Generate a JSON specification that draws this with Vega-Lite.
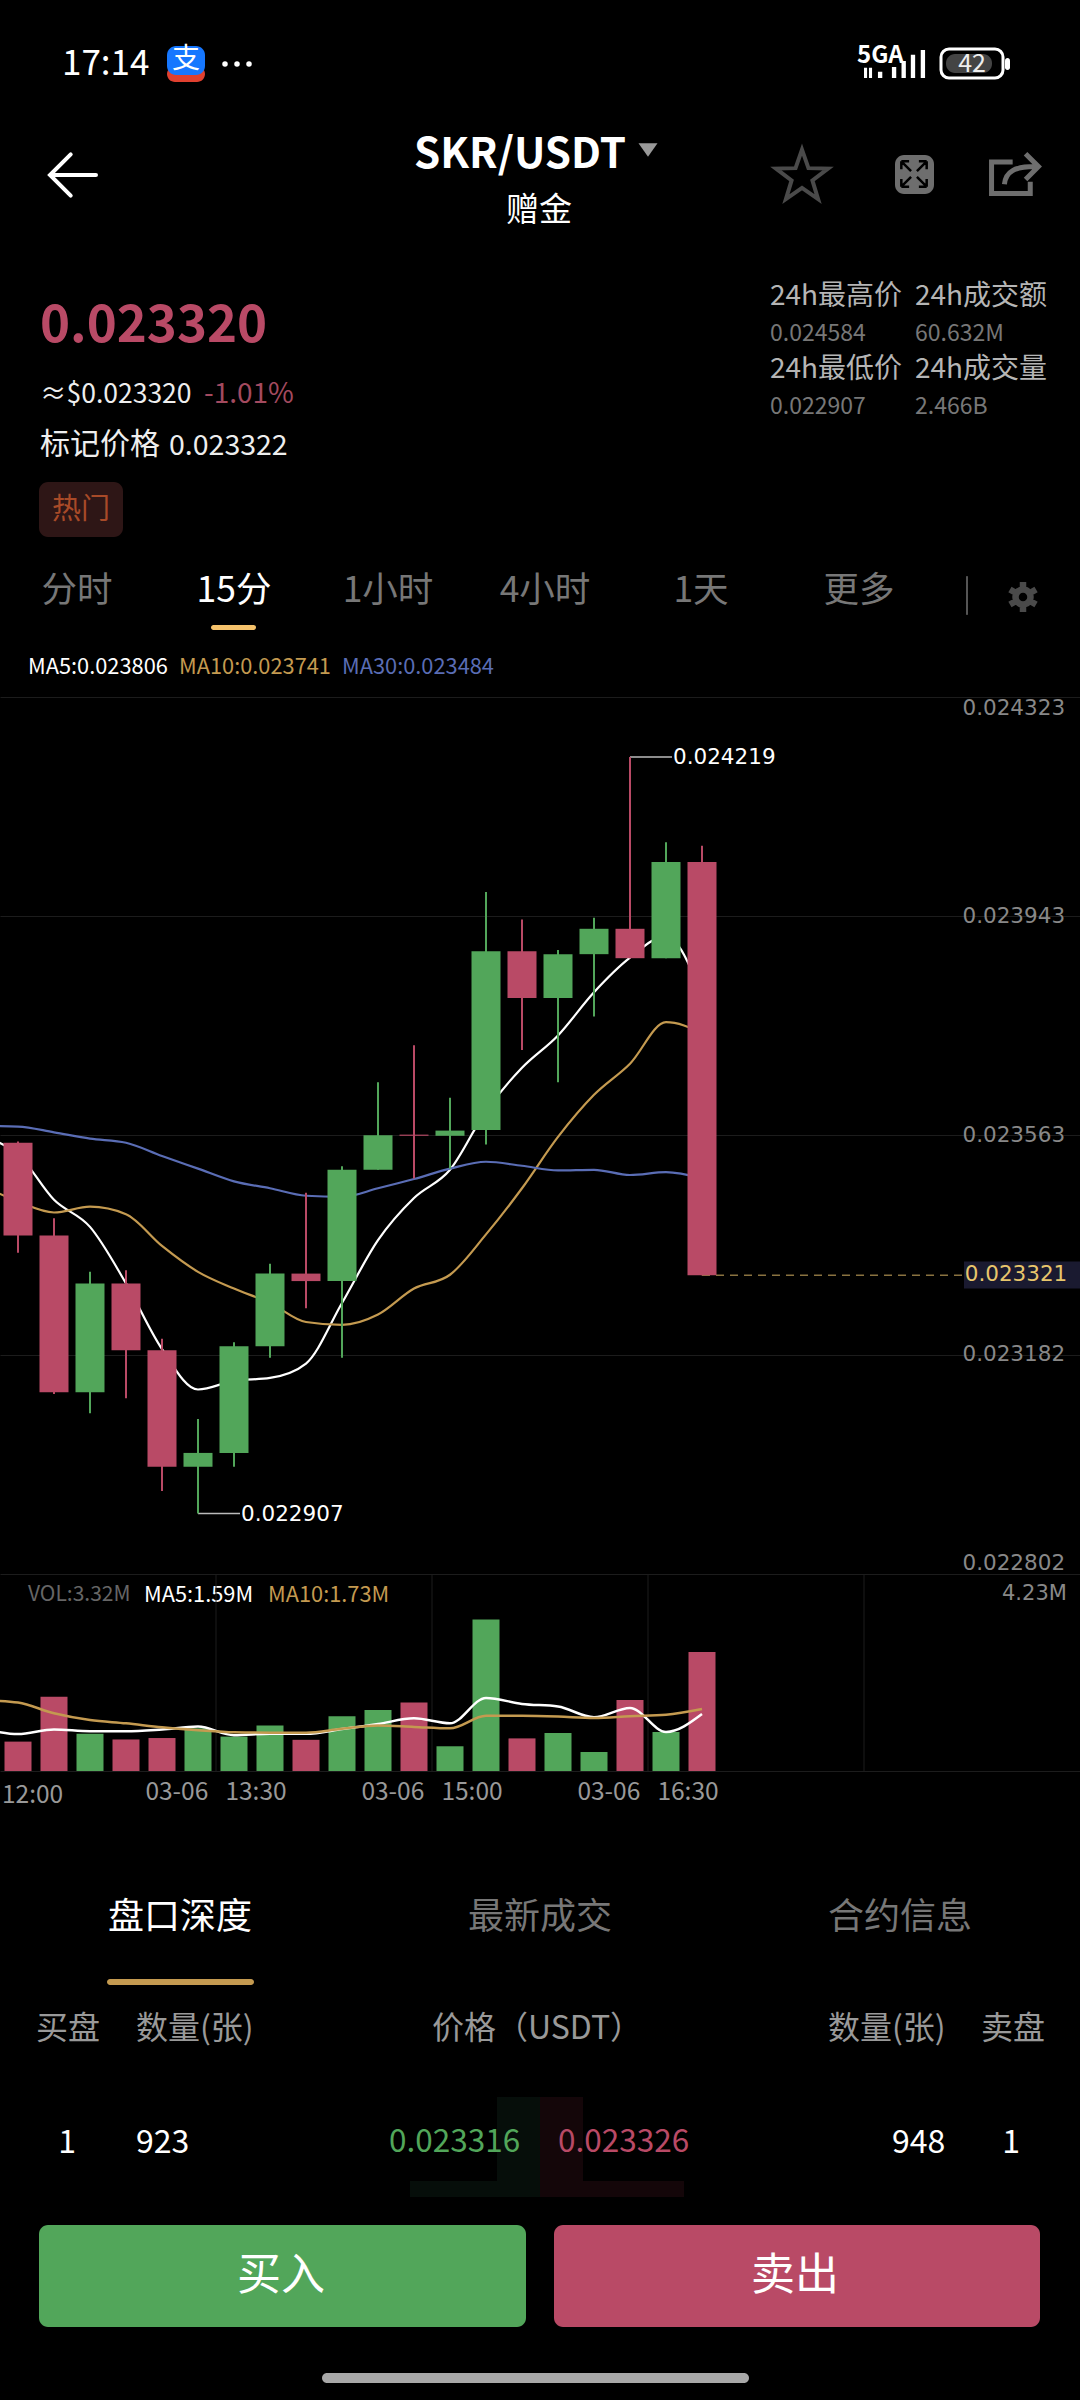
{
  "$schema": "https://vega.github.io/schema/vega-lite/v6.json",
  "description": "SKR/USDT 15 minute candlestick screen with moving averages, volume and order book row.",
  "padding": 0,
  "background": "#000000",
  "spacing": 0,
  "bounds": "flush",
  "config": {"view": {"stroke": null}},
  "resolve": {"scale": {"color": "independent"}},
  "datasets": {
    "boxes": [
      {"part": "flat screen", "style": "black", "across": 0, "acrossEnd": 1080, "down": 0, "downEnd": 2400},
      {"part": "alipay foot", "style": "alipayRed", "across": 167, "acrossEnd": 205, "down": 66, "downEnd": 82},
      {"part": "alipay", "style": "alipayBlue", "across": 167, "acrossEnd": 205, "down": 46, "downEnd": 75},
      {"part": "battery level", "style": "batteryFill", "across": 946, "acrossEnd": 992, "down": 54, "downEnd": 73},
      {"part": "battery nub", "style": "white", "across": 1005, "acrossEnd": 1010, "down": 58, "downEnd": 70},
      {"part": "tag", "style": "tagFill", "across": 39, "acrossEnd": 123, "down": 482, "downEnd": 537},
      {"part": "tab marker", "style": "tabMarker", "across": 211, "acrossEnd": 256, "down": 625, "downEnd": 630},
      {"part": "tab divider", "style": "divider", "across": 966, "acrossEnd": 968, "down": 576, "downEnd": 615},
      {"part": "expand", "style": "iconMid", "across": 895, "acrossEnd": 934, "down": 155, "downEnd": 194},
      {"part": "section marker", "style": "gold", "across": 107, "acrossEnd": 254, "down": 1979, "downEnd": 1985},
      {"part": "flat depth bid", "style": "depthBid", "across": 497, "acrossEnd": 540, "down": 2097, "downEnd": 2197},
      {"part": "flat depth bid", "style": "depthBid", "across": 410, "acrossEnd": 540, "down": 2181, "downEnd": 2197},
      {"part": "flat depth ask", "style": "depthAsk", "across": 540, "acrossEnd": 583, "down": 2097, "downEnd": 2197},
      {"part": "flat depth ask", "style": "depthAsk", "across": 540, "acrossEnd": 684, "down": 2181, "downEnd": 2197},
      {"part": "buy", "style": "bid", "across": 39, "acrossEnd": 526, "down": 2225, "downEnd": 2327},
      {"part": "sell", "style": "ask", "across": 554, "acrossEnd": 1040, "down": 2225, "downEnd": 2327},
      {"part": "home bar", "style": "homeBar", "across": 322, "acrossEnd": 749, "down": 2373, "downEnd": 2383}
    ],
    "outlines": [
      {"part": "battery", "style": "white", "across": 941, "acrossEnd": 1003, "down": 49, "downEnd": 78}
    ],
    "icons": [
      {"part": "dot", "style": "white", "across": 225, "down": 64},
      {"part": "dot", "style": "white", "across": 237, "down": 64},
      {"part": "dot", "style": "white", "across": 249, "down": 64},
      {"part": "signal", "style": "white", "across": 895, "down": 64},
      {"part": "back", "style": "white", "across": 73, "down": 175},
      {"part": "menu", "style": "menuArrow", "across": 648, "down": 150},
      {"part": "star", "style": "iconDim", "across": 802, "down": 177},
      {"part": "expand", "style": "black", "across": 914, "down": 174},
      {"part": "share", "style": "iconMid", "across": 1015, "down": 176},
      {"part": "gear", "style": "iconDim", "across": 1023, "down": 597}
    ],
    "labels": [
      {"label": "17:14", "kind": "left", "style": "clock", "across": 62, "down": 64},
      {"label": "支", "kind": "center", "style": "alipayText", "across": 186, "down": 60},
      {"label": "5GA", "kind": "boldLeft", "style": "status", "across": 857, "down": 56},
      {"label": "42", "kind": "center", "style": "battery", "across": 972, "down": 64},
      {"label": "SKR/USDT", "kind": "boldCenter", "style": "title", "across": 520, "down": 155},
      {"label": "赠金", "kind": "center", "style": "subtitle", "across": 539, "down": 211},
      {"label": "0.023320", "kind": "boldLeft", "style": "price", "across": 40, "down": 327},
      {"label": "≈$0.023320", "kind": "left", "style": "quote", "across": 40, "down": 395},
      {"label": "-1.01%", "kind": "left", "style": "change", "across": 204, "down": 395},
      {"label": "标记价格", "kind": "left", "style": "markName", "across": 40, "down": 445},
      {"label": "0.023322", "kind": "left", "style": "markValue", "across": 169, "down": 446},
      {"label": "热门", "kind": "center", "style": "tag", "across": 81, "down": 510},
      {"label": "24h最高价", "kind": "left", "style": "statName", "across": 770, "down": 297},
      {"label": "24h成交额", "kind": "left", "style": "statName", "across": 915, "down": 297},
      {"label": "0.024584", "kind": "left", "style": "statValue", "across": 770, "down": 334},
      {"label": "60.632M", "kind": "left", "style": "statValue", "across": 915, "down": 334},
      {"label": "24h最低价", "kind": "left", "style": "statName", "across": 770, "down": 370},
      {"label": "24h成交量", "kind": "left", "style": "statName", "across": 915, "down": 370},
      {"label": "0.022907", "kind": "left", "style": "statValue", "across": 770, "down": 407},
      {"label": "2.466B", "kind": "left", "style": "statValue", "across": 915, "down": 407},
      {"label": "分时", "kind": "center", "style": "tab", "across": 77, "down": 591},
      {"label": "15分", "kind": "center", "style": "tabOn", "across": 234, "down": 591},
      {"label": "1小时", "kind": "center", "style": "tab", "across": 388, "down": 591},
      {"label": "4小时", "kind": "center", "style": "tab", "across": 545, "down": 591},
      {"label": "1天", "kind": "center", "style": "tab", "across": 701, "down": 591},
      {"label": "更多", "kind": "center", "style": "tab", "across": 859, "down": 591},
      {"label": "MA5:0.023806", "kind": "left", "style": "legendWhite", "across": 28, "down": 667},
      {"label": "MA10:0.023741", "kind": "left", "style": "legendGold", "across": 179, "down": 667},
      {"label": "MA30:0.023484", "kind": "left", "style": "legendBlue", "across": 342, "down": 667},
      {"label": "VOL:3.32M", "kind": "left", "style": "legendGrey", "across": 28, "down": 1595},
      {"label": "MA5:1.59M", "kind": "left", "style": "legendWhite", "across": 144, "down": 1595},
      {"label": "MA10:1.73M", "kind": "left", "style": "legendGold", "across": 268, "down": 1595},
      {"label": "4.23M", "kind": "scale", "style": "legendScale", "across": 1002, "down": 1594},
      {"label": "12:00", "kind": "left", "style": "timeLabel", "across": 2, "down": 1796},
      {"label": "盘口深度", "kind": "center", "style": "sectionOn", "across": 180, "down": 1918},
      {"label": "最新成交", "kind": "center", "style": "section", "across": 540, "down": 1918},
      {"label": "合约信息", "kind": "center", "style": "section", "across": 900, "down": 1918},
      {"label": "买盘", "kind": "center", "style": "head", "across": 68, "down": 2029},
      {"label": "数量(张)", "kind": "left", "style": "head", "across": 136, "down": 2029},
      {"label": "价格（USDT）", "kind": "center", "style": "head", "across": 537, "down": 2029},
      {"label": "数量(张)", "kind": "left", "style": "head", "across": 828, "down": 2029},
      {"label": "卖盘", "kind": "center", "style": "head", "across": 1013, "down": 2029},
      {"label": "1", "kind": "center", "style": "qty", "across": 67, "down": 2143},
      {"label": "923", "kind": "left", "style": "qty", "across": 136, "down": 2143},
      {"label": "0.023316", "kind": "left", "style": "bidPrice", "across": 389, "down": 2143},
      {"label": "0.023326", "kind": "left", "style": "askPrice", "across": 558, "down": 2143},
      {"label": "948", "kind": "left", "style": "qty", "across": 892, "down": 2143},
      {"label": "1", "kind": "center", "style": "qty", "across": 1011, "down": 2143},
      {"label": "买入", "kind": "center", "style": "action", "across": 281, "down": 2277},
      {"label": "卖出", "kind": "center", "style": "action", "across": 795, "down": 2277}
    ],
    "candles": [
      {"time": "12:00", "open": 0.02355, "high": 0.023552, "low": 0.023359, "close": 0.023389, "volume": 0.82, "side": "down"},
      {"time": "12:15", "open": 0.023389, "high": 0.023419, "low": 0.023114, "close": 0.023117, "volume": 2.07, "side": "down"},
      {"time": "12:30", "open": 0.023117, "high": 0.023326, "low": 0.023081, "close": 0.023306, "volume": 1.04, "side": "up"},
      {"time": "12:45", "open": 0.023306, "high": 0.023329, "low": 0.023107, "close": 0.02319, "volume": 0.88, "side": "down"},
      {"time": "13:00", "open": 0.02319, "high": 0.02321, "low": 0.022946, "close": 0.022988, "volume": 0.92, "side": "down"},
      {"time": "13:15", "open": 0.022988, "high": 0.023071, "low": 0.022907, "close": 0.023012, "volume": 1.19, "side": "up"},
      {"time": "13:30", "open": 0.023012, "high": 0.023204, "low": 0.022988, "close": 0.023197, "volume": 0.96, "side": "up"},
      {"time": "13:45", "open": 0.023197, "high": 0.02334, "low": 0.023177, "close": 0.023323, "volume": 1.27, "side": "up"},
      {"time": "14:00", "open": 0.023323, "high": 0.023463, "low": 0.023263, "close": 0.02331, "volume": 0.87, "side": "down"},
      {"time": "14:15", "open": 0.02331, "high": 0.023509, "low": 0.023177, "close": 0.023503, "volume": 1.53, "side": "up"},
      {"time": "14:30", "open": 0.023503, "high": 0.023655, "low": 0.023503, "close": 0.023563, "volume": 1.7, "side": "up"},
      {"time": "14:45", "open": 0.023564, "high": 0.023719, "low": 0.023488, "close": 0.023562, "volume": 1.91, "side": "down"},
      {"time": "15:00", "open": 0.023562, "high": 0.023628, "low": 0.023505, "close": 0.023571, "volume": 0.69, "side": "up"},
      {"time": "15:15", "open": 0.023572, "high": 0.023985, "low": 0.023547, "close": 0.023882, "volume": 4.23, "side": "up"},
      {"time": "15:30", "open": 0.023882, "high": 0.023937, "low": 0.023711, "close": 0.023801, "volume": 0.91, "side": "down"},
      {"time": "15:45", "open": 0.023801, "high": 0.023884, "low": 0.023655, "close": 0.023877, "volume": 1.06, "side": "up"},
      {"time": "16:00", "open": 0.023877, "high": 0.02394, "low": 0.023769, "close": 0.023921, "volume": 0.53, "side": "up"},
      {"time": "16:15", "open": 0.023921, "high": 0.024219, "low": 0.02387, "close": 0.02387, "volume": 1.98, "side": "down"},
      {"time": "16:30", "open": 0.02387, "high": 0.024071, "low": 0.02387, "close": 0.024037, "volume": 1.09, "side": "up"},
      {"time": "16:45", "open": 0.024037, "high": 0.024065, "low": 0.02332, "close": 0.02332, "volume": 3.32, "side": "down"}
    ],
    "priceAverages": [
      {"time": "11:45", "ma": "MA5", "price": 0.02356},
      {"time": "12:00", "ma": "MA5", "price": 0.02353},
      {"time": "12:15", "ma": "MA5", "price": 0.023451},
      {"time": "12:30", "ma": "MA5", "price": 0.023404},
      {"time": "12:45", "ma": "MA5", "price": 0.023306},
      {"time": "13:00", "ma": "MA5", "price": 0.023192},
      {"time": "13:15", "ma": "MA5", "price": 0.023122},
      {"time": "13:30", "ma": "MA5", "price": 0.023137},
      {"time": "13:45", "ma": "MA5", "price": 0.023142},
      {"time": "14:00", "ma": "MA5", "price": 0.023167},
      {"time": "14:15", "ma": "MA5", "price": 0.023272},
      {"time": "14:30", "ma": "MA5", "price": 0.023381},
      {"time": "14:45", "ma": "MA5", "price": 0.023454},
      {"time": "15:00", "ma": "MA5", "price": 0.023503},
      {"time": "15:15", "ma": "MA5", "price": 0.023605},
      {"time": "15:30", "ma": "MA5", "price": 0.02368},
      {"time": "15:45", "ma": "MA5", "price": 0.023736},
      {"time": "16:00", "ma": "MA5", "price": 0.023811},
      {"time": "16:15", "ma": "MA5", "price": 0.023871},
      {"time": "16:30", "ma": "MA5", "price": 0.023908},
      {"time": "16:45", "ma": "MA5", "price": 0.023806},
      {"time": "11:45", "ma": "MA10", "price": 0.023476},
      {"time": "12:00", "ma": "MA10", "price": 0.023448},
      {"time": "12:15", "ma": "MA10", "price": 0.023429},
      {"time": "12:30", "ma": "MA10", "price": 0.023439},
      {"time": "12:45", "ma": "MA10", "price": 0.023426},
      {"time": "13:00", "ma": "MA10", "price": 0.023371},
      {"time": "13:15", "ma": "MA10", "price": 0.023326},
      {"time": "13:30", "ma": "MA10", "price": 0.023297},
      {"time": "13:45", "ma": "MA10", "price": 0.023272},
      {"time": "14:00", "ma": "MA10", "price": 0.023239},
      {"time": "14:15", "ma": "MA10", "price": 0.023234},
      {"time": "14:30", "ma": "MA10", "price": 0.023252},
      {"time": "14:45", "ma": "MA10", "price": 0.023297},
      {"time": "15:00", "ma": "MA10", "price": 0.023321},
      {"time": "15:15", "ma": "MA10", "price": 0.023391},
      {"time": "15:30", "ma": "MA10", "price": 0.023471},
      {"time": "15:45", "ma": "MA10", "price": 0.02356},
      {"time": "16:00", "ma": "MA10", "price": 0.023633},
      {"time": "16:15", "ma": "MA10", "price": 0.023687},
      {"time": "16:30", "ma": "MA10", "price": 0.023759},
      {"time": "16:45", "ma": "MA10", "price": 0.023741},
      {"time": "11:45", "ma": "MA30", "price": 0.023579},
      {"time": "12:00", "ma": "MA30", "price": 0.023578},
      {"time": "12:15", "ma": "MA30", "price": 0.023568},
      {"time": "12:30", "ma": "MA30", "price": 0.023557},
      {"time": "12:45", "ma": "MA30", "price": 0.02355},
      {"time": "13:00", "ma": "MA30", "price": 0.023527},
      {"time": "13:15", "ma": "MA30", "price": 0.023505},
      {"time": "13:30", "ma": "MA30", "price": 0.023483},
      {"time": "13:45", "ma": "MA30", "price": 0.023471},
      {"time": "14:00", "ma": "MA30", "price": 0.023458},
      {"time": "14:15", "ma": "MA30", "price": 0.023456},
      {"time": "14:30", "ma": "MA30", "price": 0.023471},
      {"time": "14:45", "ma": "MA30", "price": 0.023487},
      {"time": "15:00", "ma": "MA30", "price": 0.023505},
      {"time": "15:15", "ma": "MA30", "price": 0.023517},
      {"time": "15:30", "ma": "MA30", "price": 0.02351},
      {"time": "15:45", "ma": "MA30", "price": 0.023502},
      {"time": "16:00", "ma": "MA30", "price": 0.023503},
      {"time": "16:15", "ma": "MA30", "price": 0.023494},
      {"time": "16:30", "ma": "MA30", "price": 0.023499},
      {"time": "16:45", "ma": "MA30", "price": 0.023488}
    ],
    "volumeAverages": [
      {"time": "11:45", "ma": "MA5", "volume": 1.19},
      {"time": "12:00", "ma": "MA5", "volume": 1.03},
      {"time": "12:15", "ma": "MA5", "volume": 1.16},
      {"time": "12:30", "ma": "MA5", "volume": 1.11},
      {"time": "12:45", "ma": "MA5", "volume": 1.11},
      {"time": "13:00", "ma": "MA5", "volume": 1.16},
      {"time": "13:15", "ma": "MA5", "volume": 1.24},
      {"time": "13:30", "ma": "MA5", "volume": 1.0},
      {"time": "13:45", "ma": "MA5", "volume": 1.04},
      {"time": "14:00", "ma": "MA5", "volume": 1.04},
      {"time": "14:15", "ma": "MA5", "volume": 1.17},
      {"time": "14:30", "ma": "MA5", "volume": 1.31},
      {"time": "14:45", "ma": "MA5", "volume": 1.47},
      {"time": "15:00", "ma": "MA5", "volume": 1.33},
      {"time": "15:15", "ma": "MA5", "volume": 2.04},
      {"time": "15:30", "ma": "MA5", "volume": 1.87},
      {"time": "15:45", "ma": "MA5", "volume": 1.8},
      {"time": "16:00", "ma": "MA5", "volume": 1.5},
      {"time": "16:15", "ma": "MA5", "volume": 1.76},
      {"time": "16:30", "ma": "MA5", "volume": 1.09},
      {"time": "16:45", "ma": "MA5", "volume": 1.59},
      {"time": "11:45", "ma": "MA10", "volume": 1.98},
      {"time": "12:00", "ma": "MA10", "volume": 1.91},
      {"time": "12:15", "ma": "MA10", "volume": 1.61},
      {"time": "12:30", "ma": "MA10", "volume": 1.42},
      {"time": "12:45", "ma": "MA10", "volume": 1.33},
      {"time": "13:00", "ma": "MA10", "volume": 1.22},
      {"time": "13:15", "ma": "MA10", "volume": 1.14},
      {"time": "13:30", "ma": "MA10", "volume": 1.08},
      {"time": "13:45", "ma": "MA10", "volume": 1.07},
      {"time": "14:00", "ma": "MA10", "volume": 1.07},
      {"time": "14:15", "ma": "MA10", "volume": 1.18},
      {"time": "14:30", "ma": "MA10", "volume": 1.27},
      {"time": "14:45", "ma": "MA10", "volume": 1.23},
      {"time": "15:00", "ma": "MA10", "volume": 1.19},
      {"time": "15:15", "ma": "MA10", "volume": 1.54},
      {"time": "15:30", "ma": "MA10", "volume": 1.54},
      {"time": "15:45", "ma": "MA10", "volume": 1.52},
      {"time": "16:00", "ma": "MA10", "volume": 1.48},
      {"time": "16:15", "ma": "MA10", "volume": 1.53},
      {"time": "16:30", "ma": "MA10", "volume": 1.57},
      {"time": "16:45", "ma": "MA10", "volume": 1.73}
    ]
  },
  "vconcat": [
    {
      "width": 1080,
      "height": 697,
      "encoding": {
        "x": {"field": "across", "type": "quantitative", "scale": {"domain": [0, 1080], "range": [0, 1080], "nice": false, "zero": false}, "axis": null},
        "y": {"field": "down", "type": "quantitative", "scale": {"domain": [0, 2400], "range": [0, 2400], "nice": false, "zero": false}, "axis": null},
        "color": {
          "field": "style",
          "type": "nominal",
          "legend": null,
          "scale": {
            "domain": ["black", "white", "alipayRed", "alipayBlue", "batteryFill", "tagFill", "tabMarker", "divider", "iconMid", "iconDim", "menuArrow", "gold", "depthBid", "depthAsk", "bid", "ask", "homeBar", "clock", "alipayText", "status", "battery", "title", "subtitle", "price", "quote", "markValue", "change", "markName", "tag", "statName", "statValue", "tab", "tabOn", "legendWhite", "legendGold", "legendBlue", "legendGrey", "legendScale", "timeLabel", "sectionOn", "section", "head", "qty", "bidPrice", "askPrice", "action"],
            "range": ["#000000", "#ffffff", "#e0402f", "#1677ff", "#444444", "#2e1616", "#f5c26b", "#555555", "#6e6e6e", "#4a4a4a", "#999999", "#c49a50", "#060e0a", "#140609", "#52a65a", "#b94a66", "#a8a8a8", "#ffffff", "#ffffff", "#ffffff", "#eeeeee", "#ffffff", "#ffffff", "#b94a66", "#eeeeee", "#eeeeee", "#a34a5f", "#eeeeee", "#a84a28", "#b5b5b5", "#777777", "#777777", "#ffffff", "#ffffff", "#c49a50", "#5a6db5", "#666666", "#888888", "#999999", "#ffffff", "#777777", "#999999", "#ffffff", "#52a65a", "#b94a66", "#ffffff"]
          }
        }
      },
      "layer": [
        {
          "data": {"name": "boxes"},
          "transform": [{"filter": "indexof(datum.part, 'flat') == 0"}],
          "mark": {"type": "rect"},
          "encoding": {"x2": {"field": "acrossEnd"}, "y2": {"field": "downEnd"}}
        },
        {
          "data": {"name": "boxes"},
          "transform": [{"filter": "indexof(datum.part, 'flat') != 0"}],
          "mark": {"type": "rect", "cornerRadius": 9},
          "encoding": {"x2": {"field": "acrossEnd"}, "y2": {"field": "downEnd"}}
        },
        {
          "data": {"name": "outlines"},
          "mark": {"type": "rect", "filled": false, "strokeWidth": 3, "cornerRadius": 8},
          "encoding": {"x2": {"field": "acrossEnd"}, "y2": {"field": "downEnd"}}
        },
        {
          "data": {"name": "icons"},
          "transform": [{"filter": "datum.part == 'dot'"}],
          "mark": {"type": "circle", "size": 30, "opacity": 1}
        },
        {
          "data": {"name": "icons"},
          "transform": [{"filter": "datum.part == 'signal'"}],
          "mark": {"type": "point", "filled": true, "opacity": 1, "size": 3844, "shape": "M-1,.45V.12H-.9V.45ZM-.84,.12V.45H-.74V.12ZM-.55,.45V.25H-.41V.45ZM-.1,.45V.1H.04V.45ZM.21,.45V-.1H.35V.45ZM.51,.45V-.3H.65V.45ZM.83,.45V-.45H.97V.45Z"}
        },
        {
          "data": {"name": "icons"},
          "transform": [{"filter": "datum.part == 'menu'"}],
          "mark": {"type": "point", "filled": true, "opacity": 1, "size": 361, "shape": "M-1,-.7L1,-.7L0,.7Z"}
        },
        {
          "data": {"name": "icons"},
          "transform": [{"filter": "datum.part == 'back'"}],
          "mark": {"type": "point", "filled": false, "opacity": 1, "strokeWidth": 4, "strokeCap": "round", "size": 2116, "shape": "M-1,0L1,0M-.1,-.9L-1,0L-.1,.9"}
        },
        {
          "data": {"name": "icons"},
          "transform": [{"filter": "datum.part == 'star'"}],
          "mark": {"type": "point", "filled": false, "opacity": 1, "strokeWidth": 4, "size": 3000, "shape": "M0,-1L.235,-.324L.951,-.309L.38,.124L.588,.809L0,.4L-.588,.809L-.38,.124L-.951,-.309L-.235,-.324Z"}
        },
        {
          "data": {"name": "icons"},
          "transform": [{"filter": "datum.part == 'expand'"}],
          "mark": {"type": "point", "filled": false, "opacity": 1, "strokeWidth": 2.5, "size": 1521, "shape": "M-.65,-.65L-.15,-.15M-.65,-.65L-.65,-.25M-.65,-.65L-.25,-.65M.65,-.65L.15,-.15M.65,-.65L.65,-.25M.65,-.65L.25,-.65M-.65,.65L-.15,.15M-.65,.65L-.65,.25M-.65,.65L-.25,.65M.65,.65L.15,.15M.65,.65L.65,.25M.65,.65L.25,.65"}
        },
        {
          "data": {"name": "icons"},
          "transform": [{"filter": "datum.part == 'share'"}],
          "mark": {"type": "point", "filled": false, "opacity": 1, "strokeWidth": 5, "size": 2200, "shape": "M-.1,-.6L-1,-.6L-1,.75L.65,.75L.65,.25M-.45,.35C-.4,-.2,0,-.4,.85,-.4M.45,-.95L1,-.4L.45,.15"}
        },
        {
          "data": {"name": "icons"},
          "transform": [{"filter": "datum.part == 'gear'"}],
          "mark": {"type": "point", "filled": false, "opacity": 1, "strokeWidth": 6.5, "size": 900, "shape": "M0,-1L0,-.6M0,.6L0,1M-.87,-.5L-.52,-.3M.52,.3L.87,.5M-.87,.5L-.52,.3M.52,-.3L.87,-.5M.5,0A.5,.5,0,1,1,-.5,0A.5,.5,0,1,1,.5,0"}
        },
        {
          "data": {"name": "labels"},
          "encoding": {
            "text": {"field": "label"},
            "size": {
              "field": "style",
              "type": "ordinal",
              "legend": null,
              "scale": {
                "type": "ordinal",
                "domain": ["clock", "alipayText", "status", "battery", "title", "subtitle", "price", "quote", "markValue", "change", "markName", "tag", "statName", "statValue", "tab", "tabOn", "legendWhite", "legendGold", "legendBlue", "legendGrey", "legendScale", "timeLabel", "sectionOn", "section", "head", "qty", "bidPrice", "askPrice", "action"],
                "range": [35, 28, 24, 25, 42, 33, 51, 26.5, 28.5, 28, 30, 29, 28, 23, 35.5, 35.5, 21.8, 21.8, 21.8, 21, 21, 24.5, 36, 36, 32, 32, 31.5, 31.5, 44]
              }
            }
          },
          "layer": [
            {
              "transform": [{"filter": "datum.kind == 'left'"}],
              "mark": {"type": "text", "font": "Noto Sans CJK SC", "align": "left", "baseline": "middle"}
            },
            {
              "transform": [{"filter": "datum.kind == 'center'"}],
              "mark": {"type": "text", "font": "Noto Sans CJK SC", "align": "center", "baseline": "middle"}
            },
            {
              "transform": [{"filter": "datum.kind == 'boldLeft'"}],
              "mark": {"type": "text", "font": "Noto Sans CJK SC", "fontWeight": "bold", "align": "left", "baseline": "middle"}
            },
            {
              "transform": [{"filter": "datum.kind == 'boldCenter'"}],
              "mark": {"type": "text", "font": "Noto Sans CJK SC", "fontWeight": "bold", "align": "center", "baseline": "middle"}
            },
            {
              "transform": [{"filter": "datum.kind == 'scale'"}],
              "mark": {"type": "text", "font": "DejaVu Sans", "align": "left", "baseline": "middle"}
            }
          ]
        }
      ]
    },
    {
      "width": 1080,
      "height": 877,
      "encoding": {
        "x": {
          "field": "time",
          "type": "nominal",
          "axis": null,
          "scale": {
            "domain": ["11:45", "12:00", "12:15", "12:30", "12:45", "13:00", "13:15", "13:30", "13:45", "14:00", "14:15", "14:30", "14:45", "15:00", "15:15", "15:30", "15:45", "16:00", "16:15", "16:30", "16:45", "17:00", "17:15", "17:30", "17:45", "18:00", "18:15", "18:30", "18:45", "19:00", "19:15"],
            "range": [-36, 1080],
            "paddingInner": 0,
            "paddingOuter": 0
          }
        },
        "color": {
          "legend": null,
          "scale": {"domain": ["up", "down", "MA5", "MA10", "MA30"], "range": ["#52a65a", "#b94a66", "#ffffff", "#c49a50", "#5a6db5"]}
        }
      },
      "layer": [
        {
          "data": {"name": "priceAverages"},
          "mark": {"type": "line", "interpolate": "monotone", "strokeWidth": 2.2, "clip": true},
          "encoding": {
            "y": {
              "field": "price",
              "type": "quantitative",
              "scale": {"domain": [0.022802, 0.024323], "nice": false, "zero": false},
              "axis": {
                "orient": "right",
                "offset": -118,
                "values": [0.022802, 0.023182, 0.023563, 0.023943, 0.024323],
                "format": ".6f",
                "title": null,
                "grid": true,
                "gridColor": "#1c1c1c",
                "gridWidth": 1,
                "domain": false,
                "ticks": false,
                "labelPadding": 0,
                "labelAlign": "left",
                "labelFlush": true,
                "labelOverlap": false,
                "labelFont": "DejaVu Sans",
                "labelFontSize": 21.5,
                "labelColor": "#888888"
              }
            },
            "color": {"field": "ma", "type": "nominal"}
          }
        },
        {
          "data": {"values": [{"time": "16:45", "until": "19:15", "price": 0.02332}]},
          "mark": {"type": "rule", "color": "#8a7340", "strokeWidth": 1.5, "strokeDash": [8, 6]},
          "encoding": {"y": {"field": "price", "type": "quantitative"}, "x2": {"field": "until"}}
        },
        {
          "data": {"values": [{"time": "19:00", "top": 0.023344, "bottom": 0.023297}]},
          "mark": {"type": "bar", "size": 116, "xOffset": -4, "color": "#1a1a30"},
          "encoding": {"y": {"field": "top", "type": "quantitative"}, "y2": {"field": "bottom"}}
        },
        {
          "data": {"values": [{"time": "19:00", "price": 0.02332, "label": "0.023321"}]},
          "mark": {"type": "text", "font": "DejaVu Sans", "fontSize": 21.5, "color": "#e8c66c", "dx": -10, "align": "center", "baseline": "middle"},
          "encoding": {"y": {"field": "price", "type": "quantitative"}, "text": {"field": "label"}}
        },
        {
          "data": {"values": [{"time": "16:15", "until": "16:30", "price": 0.024219}, {"time": "13:15", "until": "13:30", "price": 0.022907}]},
          "mark": {"type": "rule", "color": "#bbbbbb", "strokeWidth": 1.5, "x2Offset": 6},
          "encoding": {"y": {"field": "price", "type": "quantitative"}, "x2": {"field": "until"}}
        },
        {
          "data": {"values": [{"time": "16:30", "price": 0.024219, "label": "0.024219"}, {"time": "13:30", "price": 0.022907, "label": "0.022907"}]},
          "mark": {"type": "text", "font": "DejaVu Sans", "fontSize": 21.5, "color": "#ffffff", "dx": 7, "dy": 1.5, "align": "left", "baseline": "middle"},
          "encoding": {"y": {"field": "price", "type": "quantitative"}, "text": {"field": "label"}}
        },
        {
          "data": {"name": "candles"},
          "mark": {"type": "rule", "strokeWidth": 2},
          "encoding": {"y": {"field": "low", "type": "quantitative"}, "y2": {"field": "high"}, "color": {"field": "side", "type": "nominal"}}
        },
        {
          "data": {"name": "candles"},
          "mark": {"type": "bar", "size": 29},
          "encoding": {"y": {"field": "open", "type": "quantitative"}, "y2": {"field": "close"}, "color": {"field": "side", "type": "nominal"}}
        }
      ]
    },
    {
      "width": 1080,
      "height": 197,
      "encoding": {
        "x": {
          "field": "time",
          "type": "nominal",
          "scale": {
            "domain": ["11:45", "12:00", "12:15", "12:30", "12:45", "13:00", "13:15", "13:30", "13:45", "14:00", "14:15", "14:30", "14:45", "15:00", "15:15", "15:30", "15:45", "16:00", "16:15", "16:30", "16:45", "17:00", "17:15", "17:30", "17:45", "18:00", "18:15", "18:30", "18:45", "19:00", "19:15"],
            "range": [-36, 1080],
            "paddingInner": 0,
            "paddingOuter": 0
          },
          "axis": {
            "title": null,
            "values": ["13:30", "15:00", "16:30"],
            "labelExpr": "'03-06\u2002\u2009' + datum.value",
            "grid": false,
            "domain": false,
            "ticks": false,
            "labelAngle": 0,
            "labelFont": "Noto Sans CJK SC",
            "labelFontSize": 24.5,
            "labelColor": "#999999",
            "labelPadding": 9,
            "labelBaseline": "top",
            "labelOverlap": false,
            "labelBound": false,
            "labelOffset": -18
          }
        },
        "color": {
          "legend": null,
          "scale": {"domain": ["up", "down", "MA5", "MA10"], "range": ["#52a65a", "#b94a66", "#ffffff", "#c49a50"]}
        }
      },
      "layer": [
        {
          "data": {"values": [{"time": "13:30"}, {"time": "15:00"}, {"time": "16:30"}, {"time": "18:00"}]},
          "mark": {"type": "rule", "color": "#1c1c1c", "strokeWidth": 1},
          "encoding": {
            "x": {
              "field": "time",
              "type": "nominal",
              "bandPosition": 0,
              "axis": {
                "title": null,
                "values": ["13:30", "15:00", "16:30"],
                "labelExpr": "'03-06\u2002\u2009' + datum.value",
                "grid": false,
                "domain": false,
                "ticks": false,
                "labelAngle": 0,
                "labelFont": "Noto Sans CJK SC",
                "labelFontSize": 24.5,
                "labelColor": "#999999",
                "labelPadding": 9,
                "labelBaseline": "top",
                "labelOverlap": false,
                "labelBound": false,
                "labelOffset": -18
              }
            }
          }
        },
        {
          "data": {"name": "candles"},
          "mark": {"type": "bar", "size": 27},
          "encoding": {
            "y": {
              "field": "volume",
              "type": "quantitative",
              "scale": {"domain": [0, 5.497], "nice": false},
              "axis": {"orient": "right", "values": [0], "labels": false, "ticks": false, "domain": false, "title": null, "grid": true, "gridColor": "#1c1c1c"}
            },
            "color": {"field": "side", "type": "nominal"}
          }
        },
        {
          "data": {"name": "volumeAverages"},
          "mark": {"type": "line", "interpolate": "monotone", "strokeWidth": 2.5, "clip": true},
          "encoding": {
            "y": {"field": "volume", "type": "quantitative"},
            "color": {"field": "ma", "type": "nominal"}
          }
        }
      ]
    }
  ]
}
